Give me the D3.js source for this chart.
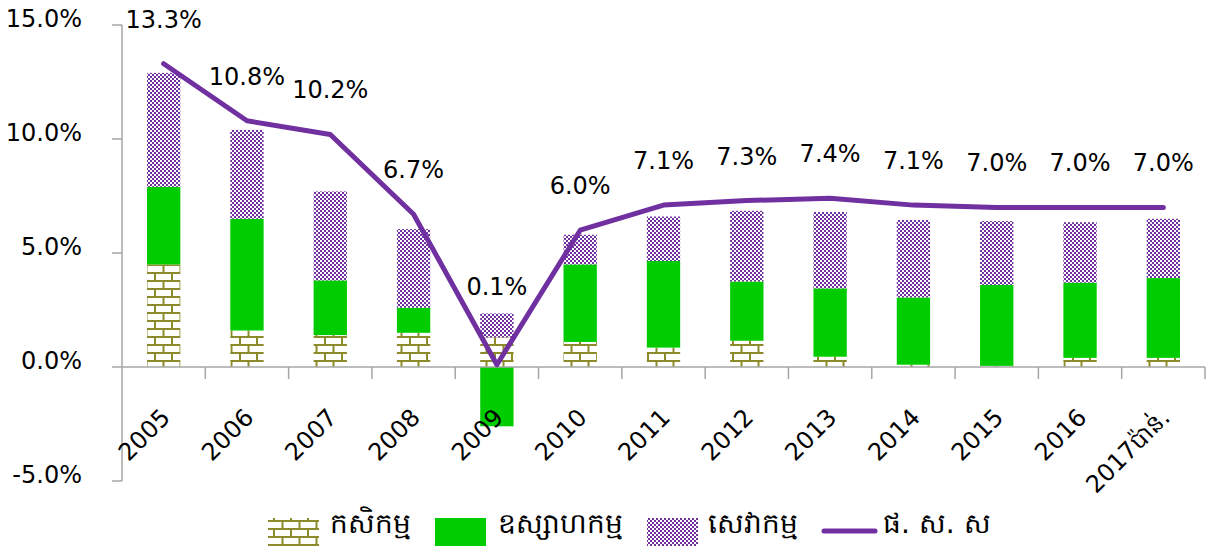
<!DOCTYPE html>
<html>
<head>
<meta charset="utf-8">
<script src="https://cdn.jsdelivr.net/npm/d3@7"></script>
<style>
  html, body { margin: 0; padding: 0; background: #fff; }
  svg { display: block; font-family: "DejaVu Sans", Verdana, sans-serif; }
</style>
</head>
<body>
<svg id="chart" width="1207" height="546"></svg>
<script>
// ---- data ----
const years = ["2005","2006","2007","2008","2009","2010","2011","2012","2013","2014","2015","2016","2017ប៉ាន់."];
const agriculture = [4.5, 1.6, 1.4, 1.5, 1.3, 1.1, 0.85, 1.15, 0.45, 0.1, 0.05, 0.4, 0.4];
const industry    = [3.4, 4.9, 2.4, 1.1, -2.6, 3.4, 3.8, 2.6, 3.0, 2.95, 3.55, 3.3, 3.5];
const services    = [5.0, 3.9, 3.9, 3.45, 1.05, 1.3, 1.95, 3.1, 3.35, 3.4, 2.8, 2.65, 2.6];
const gdp         = [13.3, 10.8, 10.2, 6.7, 0.1, 6.0, 7.1, 7.3, 7.4, 7.1, 7.0, 7.0, 7.0];
const yTicks = [-5, 0, 5, 10, 15];
const seriesNames = ["កសិកម្ម", "ឧស្សាហកម្ម", "សេវាកម្ម", "ផ. ស. ស"];

const plot = { left: 122, right: 1205, top: 25, bottom: 481 };
const purple = "#7030a0", green = "#00cc00", olive = "#8b8b2a";
const pct = v => d3.format(".1f")(v).replace("\u2212", "-") + "%";

const svg = d3.select("#chart");
const defs = svg.append("defs");

// brick pattern (agriculture)
const brick = defs.append("pattern")
  .attr("id", "brick").attr("patternUnits", "userSpaceOnUse")
  .attr("width", 17).attr("height", 16);
brick.append("rect").attr("width", 17).attr("height", 16).attr("fill", "#fff");
brick.append("path")
  .attr("d", "M0,1H17M0,9H17M2,1V9M10.5,9V17")
  .attr("stroke", olive).attr("stroke-width", 2).attr("fill", "none");

// small checker pattern (services)
const check = defs.append("pattern")
  .attr("id", "check").attr("patternUnits", "userSpaceOnUse")
  .attr("width", 4).attr("height", 4);
check.append("rect").attr("width", 4).attr("height", 4).attr("fill", purple);
check.append("rect").attr("width", 2).attr("height", 2).attr("fill", "#fff");
check.append("rect").attr("x", 2).attr("y", 2).attr("width", 2).attr("height", 2).attr("fill", "#fff");

const fills = ["url(#brick)", green, "url(#check)"];

const x = d3.scaleBand().domain(years).range([plot.left, plot.right])
  .paddingInner(0.6).paddingOuter(0.3);
const y = d3.scaleLinear().domain([-5, 15]).range([plot.bottom, plot.top]);

const rows = years.map((yr, i) => ({ year: yr, agri: agriculture[i], ind: industry[i], serv: services[i] }));
const stack = d3.stack().keys(["agri", "ind", "serv"]).offset(d3.stackOffsetDiverging);
const layers = stack(rows);

// bars
svg.append("g").selectAll("g")
  .data(layers)
  .join("g")
  .attr("fill", (d, i) => fills[i])
  .selectAll("rect")
  .data(d => d)
  .join("rect")
  .attr("x", d => x(d.data.year))
  .attr("width", x.bandwidth())
  .attr("y", d => y(Math.max(d[0], d[1])))
  .attr("height", d => Math.abs(y(d[0]) - y(d[1])));

// axes
const axisColor = "#a6a6a6";
const ax = svg.append("g").attr("stroke", axisColor).attr("stroke-width", 1.5);
ax.append("line").attr("x1", plot.left).attr("x2", plot.left).attr("y1", y(15)).attr("y2", y(-5));
ax.selectAll(".yt").data(yTicks).join("line")
  .attr("x1", plot.left - 10).attr("x2", plot.left)
  .attr("y1", d => y(d)).attr("y2", d => y(d));
ax.append("line").attr("x1", plot.left).attr("x2", plot.right).attr("y1", y(0)).attr("y2", y(0));
ax.selectAll(".xt").data(years).join("line")
  .attr("x1", d => x(d) + x.bandwidth() / 2 + x.step() / 2)
  .attr("x2", d => x(d) + x.bandwidth() / 2 + x.step() / 2)
  .attr("y1", y(0)).attr("y2", y(0) + 12);

svg.append("g").selectAll("text").data(yTicks).join("text")
  .attr("x", 82).attr("y", d => y(d) + 2)
  .attr("text-anchor", "end").attr("font-size", 24)
  .text(pct);

// x labels
svg.append("g").selectAll("text").data(years).join("text")
  .attr("text-anchor", "end").attr("font-size", 24)
  .attr("transform", d => `translate(${x(d) + x.bandwidth() / 2 + 8},${y(0) + 52}) rotate(-45)`)
  .text(d => d);

// GDP line
const cx = i => x(years[i]) + x.bandwidth() / 2;
svg.append("path")
  .datum(gdp)
  .attr("fill", "none").attr("stroke", purple).attr("stroke-width", 5)
  .attr("stroke-linejoin", "round").attr("stroke-linecap", "round")
  .attr("d", d3.line().x((d, i) => cx(i)).y(d => y(d)));

svg.append("g").selectAll("text").data(gdp).join("text")
  .attr("x", (d, i) => cx(i))
  .attr("y", d => y(d) - (d < 1 ? 70 : 36))
  .attr("text-anchor", "middle").attr("font-size", 24)
  .text(pct);

// legend
const legend = svg.append("g").attr("font-size", 28);
const legX = [268, 435, 647, 822];
const legTextX = [330, 498, 708, 883];
[0, 1, 2].forEach(i => {
  legend.append("rect").attr("x", legX[i]).attr("y", 518).attr("width", 51).attr("height", 32).attr("fill", fills[i]);
});
legend.append("line").attr("x1", legX[3] + 2).attr("x2", legX[3] + 53).attr("y1", 531).attr("y2", 531)
  .attr("stroke", purple).attr("stroke-width", 5).attr("stroke-linecap", "round");
seriesNames.forEach((n, i) => {
  legend.append("text").attr("x", legTextX[i]).attr("y", 533).text(n);
});
</script>
</body>
</html>
